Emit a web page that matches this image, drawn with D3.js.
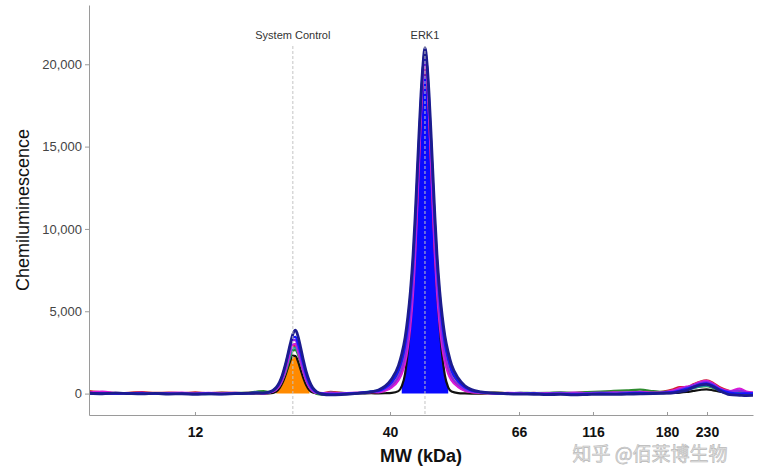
<!DOCTYPE html>
<html>
<head>
<meta charset="utf-8" />
<title>ERK1 electropherogram</title>
<script src="https://cdn.jsdelivr.net/npm/d3@7"></script>
<style>
  body { margin: 0; background: #fff; }
  text { font-family: "Liberation Sans", Arial, sans-serif; }
  .y-axis text { font-size: 13px; fill: #444; }
  .x-axis text { font-size: 14px; font-weight: bold; fill: #111; }
  .domain { stroke: #9a9a9a; }
  .tick line { stroke: #9a9a9a; }
  .trace { fill: none; stroke-linejoin: round; stroke-linecap: round; }
  .marker { stroke: #c4c4c4; stroke-width: 1; stroke-dasharray: 3,2; }
</style>
</head>
<body>
<script>
// migration position of each sample point (0 = left edge, 100 = right edge of the run)
var positions = [0,2,4,6,8,10,12,14,16,18,20,22,24,25.3,
  26.3,27.1,27.7,28.2,28.7,29.1,29.5,29.9,30.3,30.7,31.1,31.5,31.9,32.3,32.7,33.2,33.7,34.3,35.1,
  36.4,38,39.6,41.2,42.5,
  43.6,44.6,45.6,46.6,47.1,47.6,48.0,48.4,48.8,49.1,49.4,49.7,50.0,50.3,50.6,50.9,51.2,51.5,51.8,52.1,52.4,52.8,53.2,53.6,54.1,54.6,55.6,56.6,57.6,
  59,61,63,65,67,69,71,73,75,77,79,81,83,85,
  86.5,88,89,90,91,92,93,94,95,96.5,98,99,100];

// ladder: MW label and where it sits on the migration axis
var ladderKDa = [12, 40, 66, 116, 180, 230];
var ladderPos = [15.96, 45.33, 64.76, 75.9, 87.05, 93.07];

var yTicks = [0, 5000, 10000, 15000, 20000];

// named peaks
var peakNames = ["System Control", "ERK1"];
var peakPos = [30.7, 50.6];
var peakFrom = [28.2, 47.1];
var peakTo = [33.2, 54.1];

// chemiluminescence per sample (capillary)
var blackVals = [10,0,20,0,-10,10,0,-10,10,0,10,0,20,10,
  0,10,40,120,330,620,1020,1500,1980,2300,2280,1920,1420,920,520,200,60,10,0,
  0,10,0,10,20,
  10,20,40,150,450,1200,2500,4300,6600,8800,11500,14500,17500,19800,21000,19900,17400,14400,11400,8700,6400,4100,2300,1100,380,120,30,10,0,
  0,10,0,-10,10,0,-10,10,0,20,10,30,20,10,
  20,40,60,100,160,220,260,200,120,40,10,0,10];

var redVals = [150,80,30,50,90,40,60,20,70,30,60,50,20,40,
  20,60,130,260,500,820,1250,1800,2400,2850,2900,2500,1900,1300,800,400,160,60,30,
  100,50,30,40,90,
  100,220,460,950,1400,2100,3100,4500,6600,8700,11400,14300,17100,19100,20000,19100,17000,14200,11300,8600,6500,4500,3100,2100,1400,900,450,200,90,
  30,60,20,0,40,-40,10,30,70,20,50,30,80,60,
  120,260,400,380,560,720,800,650,380,160,100,60,40];

var greenVals = [0,20,40,10,30,20,0,30,20,10,40,30,60,120,
  150,100,140,260,480,780,1180,1650,2200,2600,2650,2350,1850,1300,820,400,160,-20,-60,
  20,40,0,60,110,
  150,330,680,1300,1900,2750,3850,5400,7500,9700,12300,15000,17500,19300,20300,19400,17400,15000,12400,9800,7700,5600,4000,2900,2000,1350,700,340,160,
  40,60,20,50,30,40,70,50,90,120,160,200,240,150,
  100,160,240,300,350,420,450,340,180,60,40,30,20];

var tealVals = [-20,0,20,-10,0,30,-20,10,0,-30,10,-10,20,40,
  30,70,160,300,540,850,1250,1750,2300,2750,2800,2450,1900,1350,850,430,180,50,-20,
  60,10,20,70,130,
  200,420,850,1600,2300,3200,4400,6000,8100,10200,12700,15300,17700,19400,20400,19500,17700,15400,12800,10300,8200,6100,4500,3300,2300,1600,850,420,200,
  70,10,-20,0,-10,-30,20,-20,0,-10,10,30,10,20,
  40,80,160,260,330,440,480,380,200,40,20,30,20];

var magentaVals = [60,120,40,10,50,-10,30,60,10,50,20,10,40,30,
  10,50,120,240,480,800,1250,1850,2500,3000,3000,2550,1900,1300,800,380,150,40,20,
  40,20,50,50,90,
  80,180,380,800,1200,1850,2750,4100,6100,8200,11000,14000,17000,19200,20200,19300,17000,14000,11000,8300,6200,4200,2800,1900,1200,800,400,180,80,
  50,0,40,20,-20,30,10,60,30,20,70,40,100,60,
  80,200,330,420,520,700,780,600,320,150,300,120,60];

var purpleVals = [10,30,-10,20,40,0,20,10,-20,30,0,40,20,50,
  20,60,140,280,550,900,1400,2050,2750,3250,3250,2750,2100,1450,900,450,180,50,10,
  20,0,30,60,110,
  120,260,520,1050,1550,2300,3300,4800,6900,9100,11900,14800,17500,19500,20600,19600,17500,14800,11900,9200,7000,4900,3400,2400,1600,1050,550,260,120,
  60,30,10,40,0,20,50,10,30,60,40,80,60,40,
  60,140,250,380,500,640,700,560,300,120,180,60,40];

var blueVals = [40,10,0,30,10,-10,0,-20,-10,0,-30,20,30,60,
  30,80,180,350,650,1050,1600,2250,2900,3400,3450,3000,2400,1750,1150,600,280,80,0,
  -40,-20,10,60,120,
  160,350,700,1400,2000,2900,4000,5600,7800,10000,12700,15400,17900,19800,20800,19900,18000,15500,12800,10200,8000,5800,4200,3000,2100,1400,750,380,180,
  80,20,0,-20,10,-30,-10,-40,-20,0,-10,20,40,30,
  50,90,180,300,420,560,620,470,250,60,0,20,10];

var navyVals = [20,-10,30,0,-20,10,-30,-10,-40,-20,-30,0,10,30,
  40,90,200,380,700,1100,1650,2300,3000,3600,3850,3450,2750,2000,1350,750,350,100,-40,
  -80,-60,-20,40,110,
  220,450,900,1700,2400,3400,4600,6200,8400,10600,13200,15800,18200,20000,21000,20100,18300,15900,13300,10700,8500,6300,4700,3500,2500,1750,950,480,240,
  100,30,-10,-30,-40,-60,-50,-80,-60,-40,-50,-30,-20,0,
  20,40,120,200,380,520,560,420,180,-60,-100,-120,-110];

var traceNames = ["black", "red", "green", "teal", "magenta", "purple", "blue", "navy"];
var traceValues = [blackVals, redVals, greenVals, tealVals, magentaVals, purpleVals, blueVals, navyVals];

var colors = {
  black: "#111111", red: "#d0202a", green: "#2e8b2e", teal: "#1a9c9c",
  magenta: "#d81ad8", purple: "#8a2be2", blue: "#1414ff", navy: "#1c1c8e"
};
var widths = { navy: 2.8 };
var fillColors = ["#ff8a00", "#0a0aff"];

var width = 760, height = 475,
    margin = {top: 5, right: 7, bottom: 60, left: 89};

var x = d3.scaleLinear().domain([0, 100]).range([margin.left, width - margin.right]);
var y = d3.scaleLinear().domain([-1300, 23600]).range([height - margin.bottom, margin.top]);

var svg = d3.select("body").append("svg")
    .attr("width", width)
    .attr("height", height);

svg.append("defs").append("clipPath").attr("id", "plot")
  .append("rect")
    .attr("x", margin.left)
    .attr("y", margin.top)
    .attr("width", width - margin.left - margin.right)
    .attr("height", height - margin.top - margin.bottom);

var plot = svg.append("g").attr("clip-path", "url(#plot)");

// peak areas under the black capillary
var area = d3.area()
    .x(function(d) { return x(d.pos); })
    .y0(y(0))
    .y1(function(d) { return y(d.val); })
    .curve(d3.curveMonotoneX);

peakNames.forEach(function(name, k) {
  var pts = positions.map(function(p, i) { return {pos: p, val: blackVals[i]}; })
    .filter(function(d) { return d.pos >= peakFrom[k] && d.pos <= peakTo[k]; });
  plot.append("path")
      .attr("d", area(pts))
      .attr("fill", fillColors[k]);
});

var line = d3.line()
    .x(function(d) { return x(d.pos); })
    .y(function(d) { return y(d.val); })
    .curve(d3.curveMonotoneX);

traceNames.forEach(function(name, k) {
  var pts = positions.map(function(p, i) { return {pos: p, val: traceValues[k][i]}; });
  plot.append("path")
      .attr("class", "trace")
      .attr("d", line(pts))
      .attr("stroke", colors[name])
      .attr("stroke-width", widths[name] || 2.2);
});

// peak markers and names
peakNames.forEach(function(name, k) {
  svg.append("line")
      .attr("class", "marker")
      .attr("x1", x(peakPos[k])).attr("x2", x(peakPos[k]))
      .attr("y1", 46).attr("y2", y.range()[0]);
  svg.append("text")
      .attr("x", x(peakPos[k]))
      .attr("y", 39)
      .attr("text-anchor", "middle")
      .style("font-size", "11px")
      .style("fill", "#333")
      .text(name);
});

// axes
var yAxis = d3.axisLeft(y)
    .tickValues(yTicks)
    .tickFormat(d3.format(","))
    .tickSizeInner(4)
    .tickSizeOuter(0)
    .tickPadding(3);

svg.append("g")
    .attr("class", "y-axis")
    .attr("transform", "translate(" + margin.left + ",0)")
    .call(yAxis);

var xAxis = d3.axisBottom(x)
    .tickValues(ladderPos)
    .tickFormat(function(d, i) { return ladderKDa[i]; })
    .tickSizeInner(-3)
    .tickSizeOuter(0)
    .tickPadding(12);

svg.append("g")
    .attr("class", "x-axis")
    .attr("transform", "translate(0," + y.range()[0] + ")")
    .call(xAxis);

svg.append("text")
    .attr("x", 421)
    .attr("y", 462)
    .attr("text-anchor", "middle")
    .style("font-size", "18px")
    .style("font-weight", "bold")
    .style("fill", "#111")
    .text("MW (kDa)");

svg.append("text")
    .attr("transform", "translate(29,210)rotate(-90)")
    .attr("text-anchor", "middle")
    .style("font-size", "18px")
    .style("fill", "#111")
    .text("Chemiluminescence");

// watermark, kept just below the tick labels
svg.append("text")
    .attr("x", 650)
    .attr("y", 461)
    .attr("text-anchor", "middle")
    .style("font-family", "'Noto Sans CJK SC', sans-serif")
    .style("font-size", "19px")
    .style("fill", "#e2e2e2")
    .style("stroke", "#b8b8b8")
    .style("stroke-width", 0.6)
    .text("知乎 @佰莱博生物");
</script>
</body>
</html>
